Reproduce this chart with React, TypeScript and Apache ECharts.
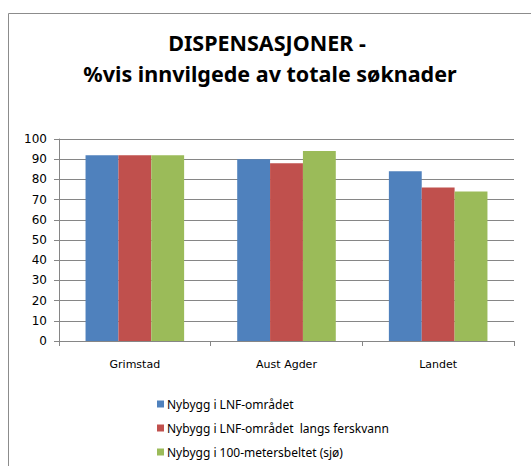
import React, { useEffect, useRef } from "react";
import * as echarts from "echarts";

const categories = ["Grimstad", "Aust Agder", "Landet"];
const seriesNames = [
  "Nybygg i LNF-området",
  "Nybygg i LNF-området  langs ferskvann",
  "Nybygg i 100-metersbeltet (sjø)",
];
const lnf = [92, 90, 84];
const lnfFerskvann = [92, 88, 76];
const hundreMeter = [92, 94, 74];
const colors = ["#4F81BD", "#C0504D", "#9BBB59"];

export default function App() {
  const ref = useRef<HTMLDivElement>(null);
  useEffect(() => {
    if (!ref.current) return;
    const chart = echarts.init(ref.current, undefined, { renderer: "svg" });
    const values = [lnf, lnfFerskvann, hundreMeter];
    chart.setOption({
      animation: false,
      backgroundColor: "#ffffff",
      graphic: [
        {
          type: "rect",
          shape: { x: 8.5, y: 13.5, width: 540, height: 470 },
          style: { fill: "none", stroke: "#8c8c8c", lineWidth: 1 },
          silent: true,
        },
        {
          type: "text",
          x: 267,
          y: 42,
          style: {
            text: "DISPENSASJONER -",
            font: "bold 21.5px 'Noto Sans'",
            fill: "#000",
            align: "center",
            verticalAlign: "middle",
          },
        },
        {
          type: "text",
          x: 270,
          y: 73,
          style: {
            text: "%vis innvilgede av totale søknader",
            font: "bold 21.5px 'Noto Sans'",
            fill: "#000",
            align: "center",
            verticalAlign: "middle",
          },
        },
      ],
      grid: { left: 59, right: 17, top: 139, bottom: 125 },
      legend: {
        orient: "vertical",
        left: 152,
        top: 393,
        icon: "rect",
        itemWidth: 7,
        itemHeight: 7,
        itemGap: 12,
        textStyle: { fontFamily: "'Noto Sans'", fontSize: 12, color: "#000", padding: [0, 0, 0, -2] },
        data: seriesNames,
      },
      xAxis: {
        type: "category",
        data: categories,
        axisLine: { show: true, lineStyle: { color: "#868686", width: 1 } },
        axisTick: { show: true, length: 5, lineStyle: { color: "#868686" } },
        axisLabel: { fontFamily: "'DejaVu Sans'", fontSize: 11, color: "#000", margin: 18 },
      },
      yAxis: {
        type: "value",
        min: 0,
        max: 100,
        interval: 10,
        axisLine: { show: true, lineStyle: { color: "#868686", width: 1 } },
        axisTick: { show: true, inside: false, length: 5, lineStyle: { color: "#868686" } },
        axisLabel: { fontFamily: "'DejaVu Sans'", fontSize: 12, color: "#000", margin: 12 },
        splitLine: { show: true, lineStyle: { color: "#868686", width: 1 } },
      },
      series: seriesNames.map((name, i) => ({
        name,
        type: "bar",
        data: values[i],
        itemStyle: { color: colors[i] },
        barGap: "0%",
        barCategoryGap: "35%",
      })),
    });
    return () => chart.dispose();
  }, []);
  return (
    <div
      ref={ref}
      style={{ position: "absolute", left: 0, top: 0, width: 531, height: 466 }}
    />
  );
}
